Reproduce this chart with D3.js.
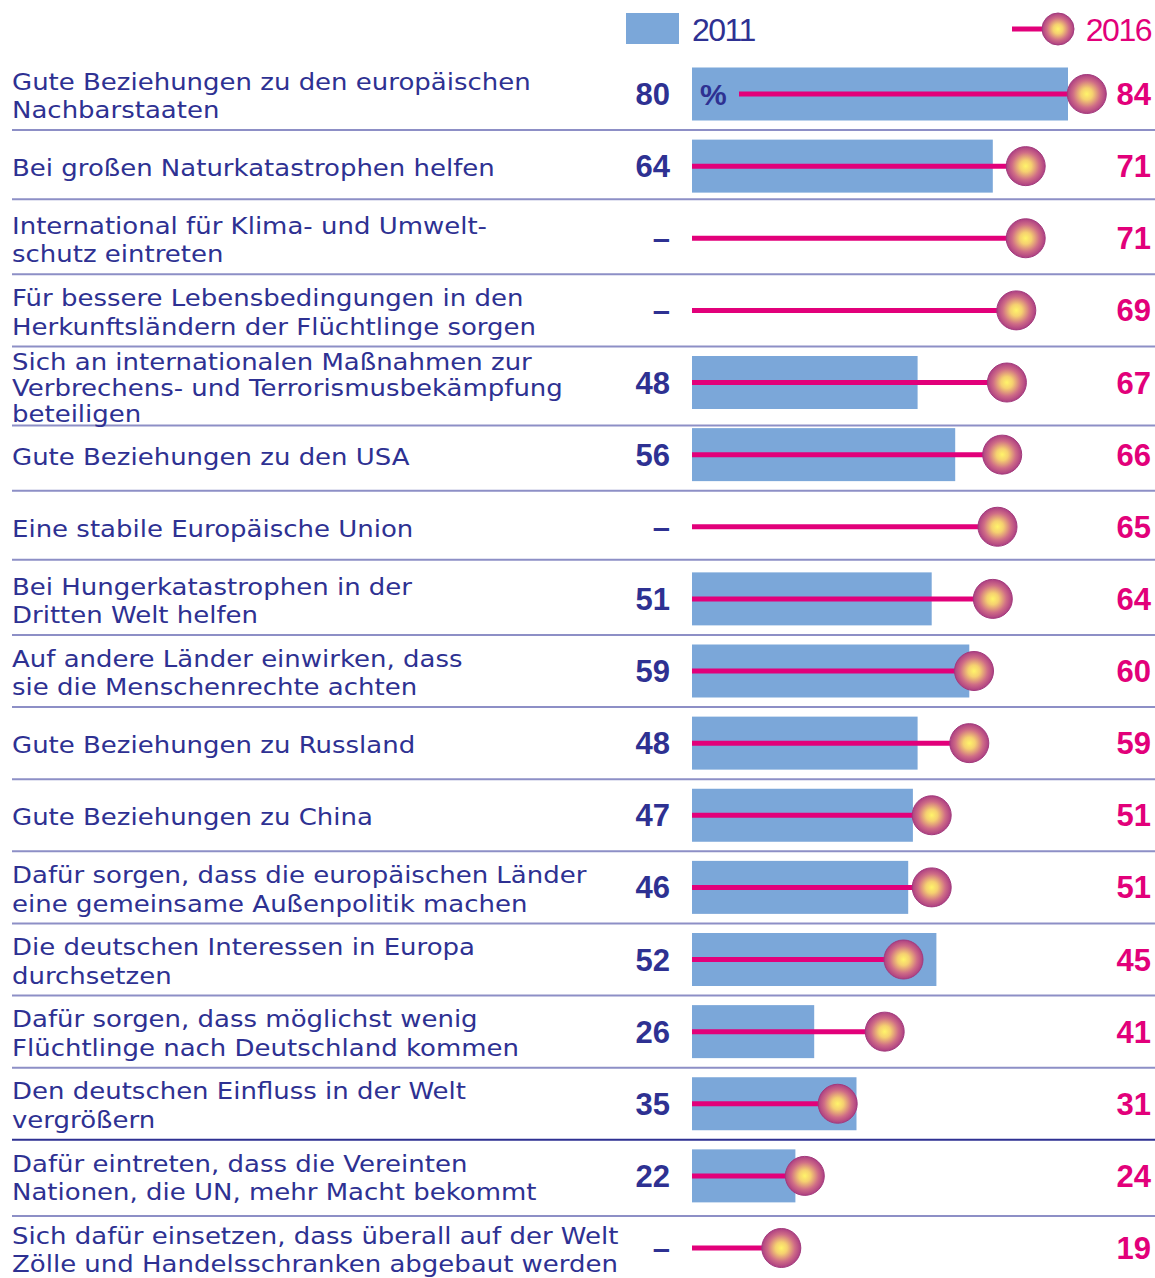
<!DOCTYPE html>
<html><head><meta charset="utf-8">
<script src="https://cdn.jsdelivr.net/npm/d3@7"></script>
<style>body{margin:0;background:#fff}svg{display:block}</style>
</head><body>
<script>
const categories = [
  ["Gute Beziehungen zu den europäischen", "Nachbarstaaten"],
  ["Bei großen Naturkatastrophen helfen"],
  ["International für Klima- und Umwelt-", "schutz eintreten"],
  ["Für bessere Lebensbedingungen in den", "Herkunftsländern der Flüchtlinge sorgen"],
  ["Sich an internationalen Maßnahmen zur", "Verbrechens- und Terrorismusbekämpfung", "beteiligen"],
  ["Gute Beziehungen zu den USA"],
  ["Eine stabile Europäische Union"],
  ["Bei Hungerkatastrophen in der", "Dritten Welt helfen"],
  ["Auf andere Länder einwirken, dass", "sie die Menschenrechte achten"],
  ["Gute Beziehungen zu Russland"],
  ["Gute Beziehungen zu China"],
  ["Dafür sorgen, dass die europäischen Länder", "eine gemeinsame Außenpolitik machen"],
  ["Die deutschen Interessen in Europa", "durchsetzen"],
  ["Dafür sorgen, dass möglichst wenig", "Flüchtlinge nach Deutschland kommen"],
  ["Den deutschen Einfluss in der Welt", "vergrößern"],
  ["Dafür eintreten, dass die Vereinten", "Nationen, die UN, mehr Macht bekommt"],
  ["Sich dafür einsetzen, dass überall auf der Welt", "Zölle und Handelsschranken abgebaut werden"]
];
const values2011 = [80, 64, null, null, 48, 56, null, 51, 59, 48, 47, 46, 52, 26, 35, 22, null];
const values2016 = [84, 71, 71, 69, 67, 66, 65, 64, 60, 59, 51, 51, 45, 41, 31, 24, 19];
const seriesLabels = ["2011", "2016"];
const unitLabel = "%";

const W = 1155, H = 1278;
const BLUE = "#2e3192", BAR = "#7ba7d9", MAG = "#e2007a", SEP = "#8d8fc6";
const svg = d3.select("body").append("svg").attr("width", W).attr("height", H);

const defs = svg.append("defs");
const grad = defs.append("radialGradient").attr("id", "ball").attr("cx", "50%").attr("cy", "50%").attr("r", "50%");
[["0%", "#fff46a"], ["30%", "#f5d070"], ["70%", "#cf6c86"], ["100%", "#ad3f82"]].forEach(([o, c]) =>
  grad.append("stop").attr("offset", o).attr("stop-color", c));

const idx = d3.range(categories.length);
const y = d3.scalePoint().domain(idx).range([94, 1248]);
const x = d3.scaleLinear().domain([0, 100]).range([692, 1162]);
const step = y.step();
const barH = 53;

// separators
const sepShift = {2: -3, 5: 7, 7: -3, 16: 4};
svg.append("g").selectAll("line").data(idx.slice(1)).join("line")
  .attr("x1", 12).attr("x2", W)
  .attr("y1", d => y(d) - step / 2 + (sepShift[d] || 0))
  .attr("y2", d => y(d) - step / 2 + (sepShift[d] || 0))
  .attr("stroke", d => d === 15 ? BLUE : SEP).attr("stroke-width", 2);

// labels (horizontally widened to mimic the wide geometric face)
const labG = svg.append("g").attr("transform", "translate(12,0) scale(1.13,1)")
  .attr("font-family", "DejaVu Sans, sans-serif").attr("font-size", 23).attr("fill", BLUE);
idx.forEach(i => {
  const lines = categories[i];
  const lh = lines.length === 3 ? 26 : 28.5;
  const blockC = y(i) + (lines.length === 3 ? 6 : 2);
  const t = labG.append("text").attr("x", 0);
  lines.forEach((s, k) => {
    t.append("tspan").attr("x", 0)
      .attr("y", blockC - (lines.length - 1) * lh / 2 + k * lh + 8)
      .text(s);
  });
});

// bars
svg.append("g").selectAll("rect").data(idx.filter(i => values2011[i] != null)).join("rect")
  .attr("x", x(0)).attr("y", i => y(i) - barH / 2)
  .attr("width", i => x(values2011[i]) - x(0)).attr("height", barH)
  .attr("fill", BAR);

// percent sign in first bar
svg.append("text").attr("x", x(0) + 8).attr("y", y(0) + 11)
  .attr("font-family", "Liberation Sans, Arial, sans-serif").attr("font-weight", "bold")
  .attr("font-size", 30).attr("fill", BLUE).text(unitLabel);

// lines
svg.append("g").selectAll("line").data(idx).join("line")
  .attr("x1", i => i === 0 ? x(10) : x(0)).attr("x2", i => x(values2016[i]))
  .attr("y1", i => y(i)).attr("y2", i => y(i))
  .attr("stroke", MAG).attr("stroke-width", 5);

// balls
svg.append("g").selectAll("circle").data(idx).join("circle")
  .attr("cx", i => x(values2016[i])).attr("cy", i => y(i)).attr("r", 19.5)
  .attr("fill", "url(#ball)").attr("stroke", "#a23a7c").attr("stroke-width", 1);

// value labels
const numFont = "Liberation Sans, Arial, sans-serif";
svg.append("g").selectAll("text").data(idx).join("text")
  .attr("x", 670).attr("y", i => y(i) + 11).attr("text-anchor", "end")
  .attr("font-family", numFont).attr("font-weight", "bold").attr("font-size", 31)
  .attr("fill", BLUE).text(i => values2011[i] == null ? "–" : values2011[i]);
svg.append("g").selectAll("text").data(idx).join("text")
  .attr("x", 1151).attr("y", i => y(i) + 11).attr("text-anchor", "end")
  .attr("font-family", numFont).attr("font-weight", "bold").attr("font-size", 31)
  .attr("fill", MAG).text(i => values2016[i]);

// legend
const lg = svg.append("g");
lg.append("rect").attr("x", 626).attr("y", 13).attr("width", 53).attr("height", 31).attr("fill", BAR);
lg.append("text").attr("x", 692).attr("y", 41).attr("font-family", numFont).attr("font-size", 32)
  .attr("letter-spacing", -1.5).attr("fill", BLUE).text(seriesLabels[0]);
lg.append("line").attr("x1", 1012).attr("x2", 1058).attr("y1", 29).attr("y2", 29)
  .attr("stroke", MAG).attr("stroke-width", 5);
lg.append("circle").attr("cx", 1058).attr("cy", 29).attr("r", 16)
  .attr("fill", "url(#ball)").attr("stroke", "#a23a7c").attr("stroke-width", 1);
lg.append("text").attr("x", 1151).attr("y", 41).attr("text-anchor", "end").attr("font-family", numFont).attr("font-size", 32)
  .attr("letter-spacing", -1.5).attr("fill", MAG).text(seriesLabels[1]);
</script>
</body></html>
